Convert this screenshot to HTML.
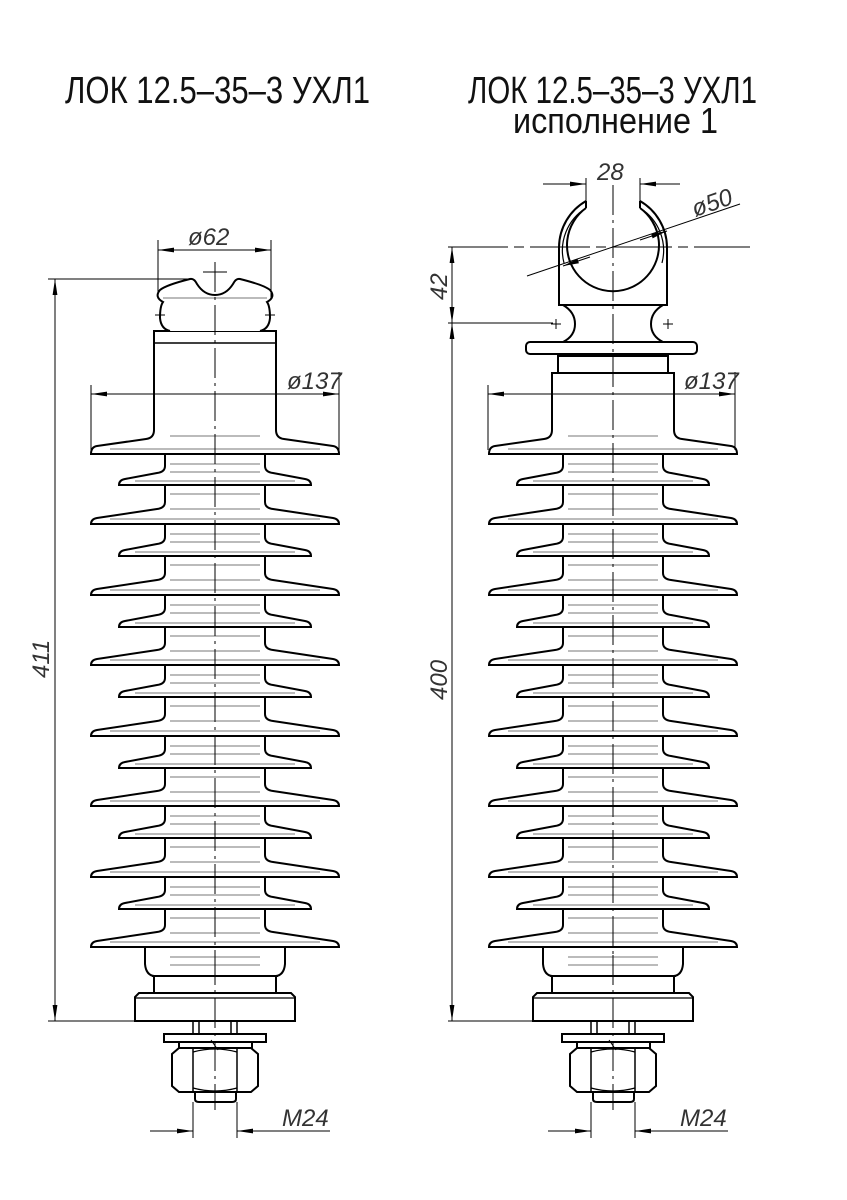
<!DOCTYPE html>
<html><head><meta charset="utf-8"><style>
html,body{margin:0;padding:0;background:#fff}
svg{display:block}
.t{font-family:"Liberation Sans","DejaVu Sans",sans-serif;fill:#111}
.d{font-family:"Liberation Sans","DejaVu Sans",sans-serif;font-style:italic;fill:#333;font-size:24px}
</style></head><body>
<svg width="847" height="1200" viewBox="0 0 847 1200" xmlns="http://www.w3.org/2000/svg">
<defs>
<marker id="a" viewBox="0 0 16 6" refX="16" refY="3" markerWidth="16" markerHeight="6" markerUnits="userSpaceOnUse" orient="auto-start-reverse"><path d="M0 0.6 L16 3 L0 5.4Z" fill="#000"/></marker>
<path id="big" d="M-50 -26 L-50 -22 Q-50 -16 -58 -15 L-118 -6 Q-124 -5 -124 0 L124 0 Q124 -5 118 -6 L58 -15 Q50 -16 50 -22 L50 -26" fill="#fff" stroke="#000" stroke-width="2"/>
<path id="small" d="M-50 -22 L-50 -19 Q-50 -13 -58 -12 L-90 -6 Q-96 -5 -96 0 L96 0 Q96 -5 90 -6 L58 -12 Q50 -13 50 -19 L50 -22" fill="#fff" stroke="#000" stroke-width="2"/>
<g id="gl" stroke="#777" stroke-width="1">
<line x1="-105" y1="-5" x2="105" y2="-5"/>
<line x1="-45" y1="10" x2="45" y2="10"/>
<line x1="-45" y1="18" x2="45" y2="18"/>
</g>
<g id="gs" stroke="#777" stroke-width="1">
<line x1="-80" y1="-4" x2="80" y2="-4"/>
<line x1="-45" y1="9" x2="45" y2="9"/>
<line x1="-45" y1="24" x2="45" y2="24"/>
</g>
<g id="body">
<line x1="165" y1="454" x2="165" y2="947" stroke="#000" stroke-width="2"/>
<line x1="265" y1="454" x2="265" y2="947" stroke="#000" stroke-width="2"/>
<g transform="translate(215,0)">
<use href="#small" y="485"/><use href="#big" y="524"/>
<use href="#small" y="556"/><use href="#big" y="595"/>
<use href="#small" y="627"/><use href="#big" y="665"/>
<use href="#small" y="697"/><use href="#big" y="736"/>
<use href="#small" y="768"/><use href="#big" y="806"/>
<use href="#small" y="838"/><use href="#big" y="877"/>
<use href="#small" y="909"/><use href="#big" y="947"/>
<use href="#gl" y="454"/><use href="#gs" y="485"/><use href="#gl" y="524"/><use href="#gs" y="556"/>
<use href="#gl" y="595"/><use href="#gs" y="627"/><use href="#gl" y="665"/><use href="#gs" y="697"/>
<use href="#gl" y="736"/><use href="#gs" y="768"/><use href="#gl" y="806"/><use href="#gs" y="838"/>
<use href="#gl" y="877"/><use href="#gs" y="909"/><use href="#gl" y="947"/>
</g>
<g fill="none" stroke="#000" stroke-width="2">
<path d="M145 947 L145 964 Q146 975 154 976 L154 993 M285 947 L285 964 Q284 975 276 976 L276 993"/>
<line x1="152" y1="976" x2="278" y2="976"/>
<path d="M135 1021 L135 997 L139 993 L291 993 L295 997 L295 1021 Z"/>
<line x1="135" y1="998" x2="295" y2="998" stroke-width="1.2"/>
<path d="M193 1021 L193 1034 M199 1021 L199 1034 M237 1021 L237 1034 M231 1021 L231 1034" stroke-width="1.5"/>
<rect x="164" y="1034" width="102" height="8"/>
<rect x="179" y="1042" width="73" height="6"/>
<path d="M179 1048 L251 1048 L258 1054 L258 1086 L251 1092 L179 1092 L172 1086 L172 1054 Z"/>
<path d="M193 1048 L193 1092 M237 1048 L237 1092" stroke-width="1.5"/>
<path d="M193 1052 Q215 1046 237 1052 M193 1088 Q215 1094 237 1088" stroke-width="1.2"/>
<path d="M195 1092 L195 1099 Q195 1102 199 1102 L232 1102 Q236 1102 236 1099 L236 1092"/>
</g>
<line x1="211" y1="1040" x2="218" y2="1050" stroke="#000" stroke-width="1"/>
<line x1="193" y1="1102" x2="193" y2="1138" stroke="#000" stroke-width="1"/>
<line x1="237" y1="1102" x2="237" y2="1138" stroke="#000" stroke-width="1"/>
<line x1="150" y1="1131" x2="193" y2="1131" stroke="#000" stroke-width="1" marker-end="url(#a)"/>
<line x1="330" y1="1131" x2="237" y2="1131" stroke="#000" stroke-width="1" marker-end="url(#a)"/>
<text class="d" x="282" y="1126">M24</text>
<line x1="215" y1="955" x2="215" y2="1110" stroke="#000" stroke-width="1" stroke-dasharray="30,5,3,5"/>
</g>
</defs>

<text class="t" x="65" y="103" font-size="38" textLength="305" lengthAdjust="spacingAndGlyphs">ЛОК 12.5–35–3  УХЛ1</text>
<text class="t" x="468" y="103" font-size="38" textLength="289" lengthAdjust="spacingAndGlyphs">ЛОК 12.5–35–3  УХЛ1</text>
<text class="t" x="513" y="133" font-size="36" textLength="205" lengthAdjust="spacingAndGlyphs">исполнение 1</text>

<!-- LEFT -->
<use href="#body"/>
<g fill="none" stroke="#000" stroke-width="2">
<path d="M154 331 L154 430 Q154 438 146 439 L97 446 Q91 447 91 454 L339 454 Q339 447 333 446 L284 439 Q276 438 276 430 L276 331 Z" fill="#fff"/>
<line x1="154" y1="343" x2="276" y2="343" stroke-width="1.5"/>
<path d="M170 331 Q161 329 160 318 Q160 306 163 302 Q154 297 160 290 Q166 285 190 279 Q194 278 197 284 Q204 295 215 295 Q226 295 233 284 Q236 278 240 279 Q264 285 270 290 Q276 297 267 302 Q270 306 270 318 Q269 329 260 331" fill="#fff"/>
</g>
<g stroke="#777" stroke-width="1"><line x1="110" y1="449" x2="320" y2="449"/><line x1="170" y1="436" x2="260" y2="436"/><line x1="163" y1="298" x2="267" y2="298"/></g>
<g stroke="#000" stroke-width="1">
<line x1="215" y1="262" x2="215" y2="960" stroke-dasharray="30,5,3,5"/>
<line x1="203" y1="272" x2="227" y2="272"/>
<line x1="155" y1="315" x2="165" y2="315"/><line x1="160" y1="310" x2="160" y2="320"/>
<line x1="265" y1="315" x2="275" y2="315"/><line x1="270" y1="310" x2="270" y2="320"/>
<line x1="158" y1="240" x2="158" y2="298"/><line x1="271" y1="240" x2="271" y2="298"/>
<line x1="158" y1="250" x2="271" y2="250" marker-start="url(#a)" marker-end="url(#a)"/>
<line x1="91" y1="385" x2="91" y2="450"/><line x1="339" y1="372" x2="339" y2="450"/>
<line x1="91" y1="394" x2="339" y2="394" marker-start="url(#a)" marker-end="url(#a)"/>
<line x1="48" y1="279" x2="190" y2="279"/>
<line x1="48" y1="1021" x2="135" y2="1021"/>
<line x1="55" y1="279" x2="55" y2="1021" marker-start="url(#a)" marker-end="url(#a)"/>
</g>
<text class="d" x="188" y="245">ø62</text>
<text class="d" x="287" y="389">ø137</text>
<text class="d" transform="translate(49,678) rotate(-90)">411</text>

<!-- RIGHT -->
<use href="#body" x="398"/>
<g fill="none" stroke="#000" stroke-width="2">
<path d="M552 373 L552 430 Q552 438 544 439 L495 446 Q489 447 489 454 L737 454 Q737 447 731 446 L682 439 Q674 438 674 430 L674 373 Z" fill="#fff"/>
<path d="M558 373 L558 356 L668 356 L668 373"/>
<rect x="526" y="342" width="171" height="12" rx="4" fill="#fff"/>
<path d="M563 342 Q575 336 575 324 Q575 312 563 305 M663 342 Q651 336 651 324 Q651 312 663 305"/>
<path d="M586 201 A54 54 0 0 0 559 247 L559 305 L667 305 L667 247 A54 54 0 0 0 640 201" fill="#fff"/>
<path d="M586 201 L586 208 M640 201 L640 208"/>
<path d="M586 208 A46 46 0 1 0 640 208"/>
<path d="M586 208 A50 50 0 0 0 564 263 M640 208 A50 50 0 0 1 662 263" stroke-width="1.2"/>
</g>
<g stroke="#777" stroke-width="1"><line x1="508" y1="449" x2="718" y2="449"/><line x1="568" y1="436" x2="658" y2="436"/></g>
<g stroke="#000" stroke-width="1">
<line x1="613" y1="185" x2="613" y2="960" stroke-dasharray="30,5,3,5"/>
<line x1="551" y1="324" x2="561" y2="324"/><line x1="556" y1="319" x2="556" y2="329"/>
<line x1="663" y1="324" x2="673" y2="324"/><line x1="668" y1="319" x2="668" y2="329"/>
<line x1="586" y1="178" x2="586" y2="201"/><line x1="640" y1="178" x2="640" y2="201"/>
<line x1="543" y1="184" x2="586" y2="184" marker-end="url(#a)"/>
<line x1="680" y1="184" x2="640" y2="184" marker-end="url(#a)"/>
<line x1="527" y1="276" x2="740" y2="204"/>
<line x1="590" y1="257" x2="563" y2="266" marker-end="url(#a)"/>
<line x1="640" y1="240" x2="667" y2="231" marker-end="url(#a)"/>
<line x1="448" y1="247" x2="750" y2="247" stroke-dasharray="60,6,10,6"/>
<line x1="448" y1="323" x2="553" y2="323"/>
<line x1="452" y1="247" x2="452" y2="323" marker-start="url(#a)" marker-end="url(#a)"/>
<line x1="452" y1="323" x2="452" y2="1021" marker-start="url(#a)" marker-end="url(#a)"/>
<line x1="448" y1="1021" x2="533" y2="1021"/>
<line x1="488" y1="385" x2="488" y2="450"/><line x1="735" y1="372" x2="735" y2="450"/>
<line x1="488" y1="394" x2="735" y2="394" marker-start="url(#a)" marker-end="url(#a)"/>
</g>
<text class="d" x="597" y="180">28</text>
<text class="d" transform="translate(695,217) rotate(-19)">ø50</text>
<text class="d" x="684" y="389">ø137</text>
<text class="d" transform="translate(447,300) rotate(-90)">42</text>
<text class="d" transform="translate(447,700) rotate(-90)">400</text>
</svg>
</body></html>
